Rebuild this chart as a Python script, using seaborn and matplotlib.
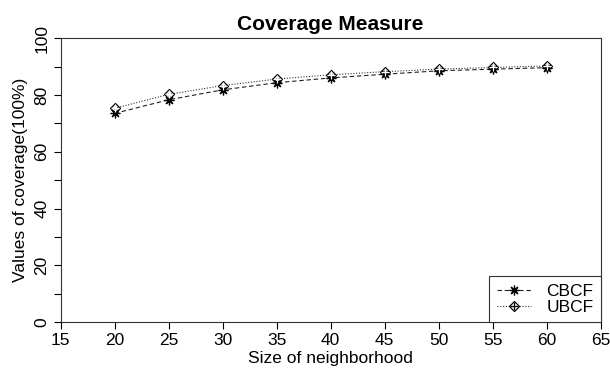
import numpy as np
import pandas as pd
import matplotlib
matplotlib.use("Agg")
import matplotlib.pyplot as plt
import seaborn as sns
from matplotlib.lines import Line2D

sizes = [20, 25, 30, 35, 40, 45, 50, 55, 60]
cbcf = [73.5, 78.3, 81.8, 84.3, 86.0, 87.3, 88.5, 89.1, 89.6]
ubcf = [75.3, 80.2, 83.3, 85.6, 87.1, 88.2, 89.1, 89.7, 90.2]

sns.set_style("ticks")
plt.rcParams['font.family'] = ['Liberation Sans', 'DejaVu Sans']
plt.rcParams['font.size'] = 12.5
plt.rcParams['text.color'] = 'black'
plt.rcParams['axes.labelcolor'] = 'black'
plt.rcParams['xtick.color'] = 'black'
plt.rcParams['ytick.color'] = 'black'

fig = plt.figure(figsize=(6.1, 3.78), dpi=100)
# axes box: x 61..601 px, y 38..322 px
ax = fig.add_axes([0.0995, 0.148, 0.885, 0.751])

ast = (8, 2, 0)
sns.lineplot(x=sizes, y=cbcf, ax=ax, color='#222222', linestyle=(0, (4, 2.5)), linewidth=0.8,
             marker=ast, markersize=7, markeredgewidth=0.9, markeredgecolor='black')
sns.lineplot(x=sizes, y=ubcf, ax=ax, color='#333333', linestyle=(0, (1, 1.5)), linewidth=0.8,
             marker='D', markersize=5, markerfacecolor='none', markeredgewidth=0.9, markeredgecolor='black')
sns.lineplot(x=sizes, y=ubcf, ax=ax, color='black', linestyle='none',
             marker='+', markersize=6, markeredgewidth=0.9)

ax.set_xlim(15, 65)
ax.set_ylim(0, 100)
ax.set_xticks(np.arange(15, 66, 5))
yt = np.arange(0, 101, 10)
ax.set_yticks(yt)
ax.set_yticklabels([str(v) if v % 20 == 0 else '' for v in yt], rotation=90, va='center')
ax.tick_params(direction='out', length=5, width=0.8, colors='black', labelsize=12.5, pad=3)
for s in ax.spines.values():
    s.set_visible(True)
    s.set_linewidth(0.8)
    s.set_color('#333333')

ax.set_xlabel('Size of neighborhood', fontsize=12.5, labelpad=2)
ax.set_ylabel('Values of coverage(100%)', fontsize=12.5, labelpad=5)
ax.set_title('Coverage Measure', fontsize=15, fontweight='bold', pad=6, color='black')

h1 = Line2D([], [], color='#222222', linestyle=(0, (4, 2.5)), linewidth=0.8,
            marker=ast, markersize=7, markeredgewidth=0.9, markeredgecolor='black')
h2 = Line2D([], [], color='#333333', linestyle=(0, (1, 1.5)), linewidth=0.8,
            marker='D', markersize=5, markerfacecolor='none', markeredgewidth=0.9, markeredgecolor='black')
h3 = Line2D([], [], color='black', linestyle='none', marker='+', markersize=6, markeredgewidth=0.9)
leg = ax.legend([h1, (h2, h3)], ['CBCF', 'UBCF'], loc='lower right', borderaxespad=0,
                fancybox=False, edgecolor='#333333', framealpha=1, fontsize=12.5,
                handlelength=2.0, labelspacing=0.05, handletextpad=0.85, borderpad=0.42)
leg.get_frame().set_linewidth(0.8)

fig.savefig('out.png', dpi=100)
